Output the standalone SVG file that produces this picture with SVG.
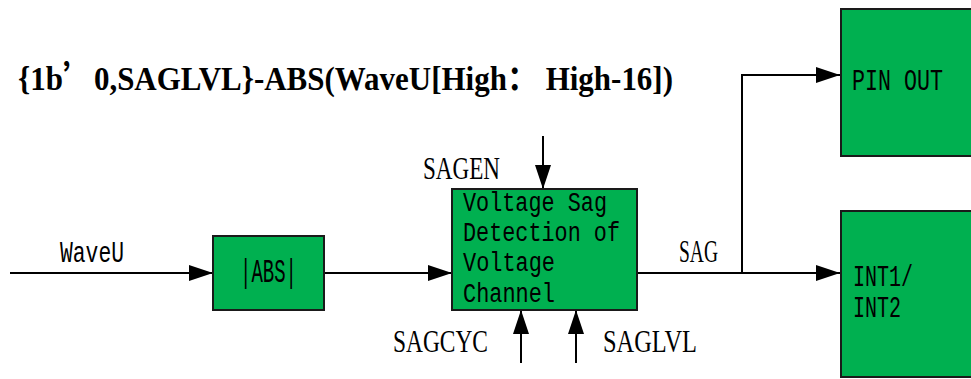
<svg xmlns="http://www.w3.org/2000/svg" width="971" height="379" viewBox="0 0 971 379">
<style>
.box{fill:#00B050;stroke:#1a1a1a;stroke-width:2}
.mono{font-family:"Liberation Mono","DejaVu Sans Mono",monospace;font-size:27px;fill:#000}
.big{font-size:30px}
.serif{font-family:"Liberation Serif","Noto Sans CJK SC",serif;font-size:31px;fill:#000}
.title{font-family:"Liberation Serif","Noto Sans CJK SC",serif;font-size:34px;font-weight:bold;fill:#000}
.cjk{font-family:"Noto Sans CJK SC",sans-serif}
.wire{fill:none;stroke:#000;stroke-width:2}
</style>
<defs>
<marker id="arr" markerUnits="userSpaceOnUse" markerWidth="24" markerHeight="16" refX="24" refY="8" orient="auto">
<path d="M0,0 L24,8 L0,16 Z" fill="#000"/>
</marker>
</defs>
<text class="title" x="18" y="90" textLength="655" lengthAdjust="spacingAndGlyphs">{1b<tspan class="cjk">’</tspan>0,SAGLVL}-ABS(WaveU[High： High-16])</text>
<g id="connectors">
<path class="wire" d="M10,273 H213" marker-end="url(#arr)"/>
<path class="wire" d="M324,273 H452" marker-end="url(#arr)"/>
<path class="wire" d="M543,136 V189" marker-end="url(#arr)"/>
<path class="wire" d="M521,363 V310" marker-end="url(#arr)"/>
<path class="wire" d="M576,363 V310" marker-end="url(#arr)"/>
<path class="wire" d="M637,273 H840" marker-end="url(#arr)"/>
<path class="wire" d="M742,273 V75 H840" marker-end="url(#arr)"/>
<text class="mono big" x="60" y="262" textLength="64" lengthAdjust="spacingAndGlyphs">WaveU</text>
<text class="serif" x="423" y="179" textLength="77" lengthAdjust="spacingAndGlyphs">SAGEN</text>
<text class="serif" x="393" y="352" textLength="95" lengthAdjust="spacingAndGlyphs">SAGCYC</text>
<text class="serif" x="603" y="352" textLength="94" lengthAdjust="spacingAndGlyphs">SAGLVL</text>
<text class="serif" x="679" y="262" textLength="39" lengthAdjust="spacingAndGlyphs">SAG</text>
</g>
<g id="abs">
<rect class="box" x="213" y="236" width="111" height="74"/>
<text class="mono" x="240" y="282" style="font-size:33px" textLength="57" lengthAdjust="spacingAndGlyphs">|ABS|</text>
</g>
<g id="sag-detect">
<rect class="box" x="452" y="189" width="185" height="121"/>
<text class="mono" x="463" y="211" textLength="144" lengthAdjust="spacingAndGlyphs">Voltage Sag</text>
<text class="mono" x="463" y="241" textLength="157" lengthAdjust="spacingAndGlyphs">Detection of</text>
<text class="mono" x="463" y="271" textLength="92" lengthAdjust="spacingAndGlyphs">Voltage</text>
<text class="mono" x="463" y="302" textLength="92" lengthAdjust="spacingAndGlyphs">Channel</text>
</g>
<g id="pin-out">
<rect class="box" x="841" y="9" width="140" height="147"/>
<text class="mono big" x="852" y="90" textLength="91" lengthAdjust="spacingAndGlyphs">PIN OUT</text>
</g>
<g id="int">
<rect class="box" x="841" y="211" width="140" height="166"/>
<text class="mono big" x="853" y="286" textLength="60" lengthAdjust="spacingAndGlyphs">INT1/</text>
<text class="mono big" x="853" y="317" textLength="48" lengthAdjust="spacingAndGlyphs">INT2</text>
</g>
</svg>
